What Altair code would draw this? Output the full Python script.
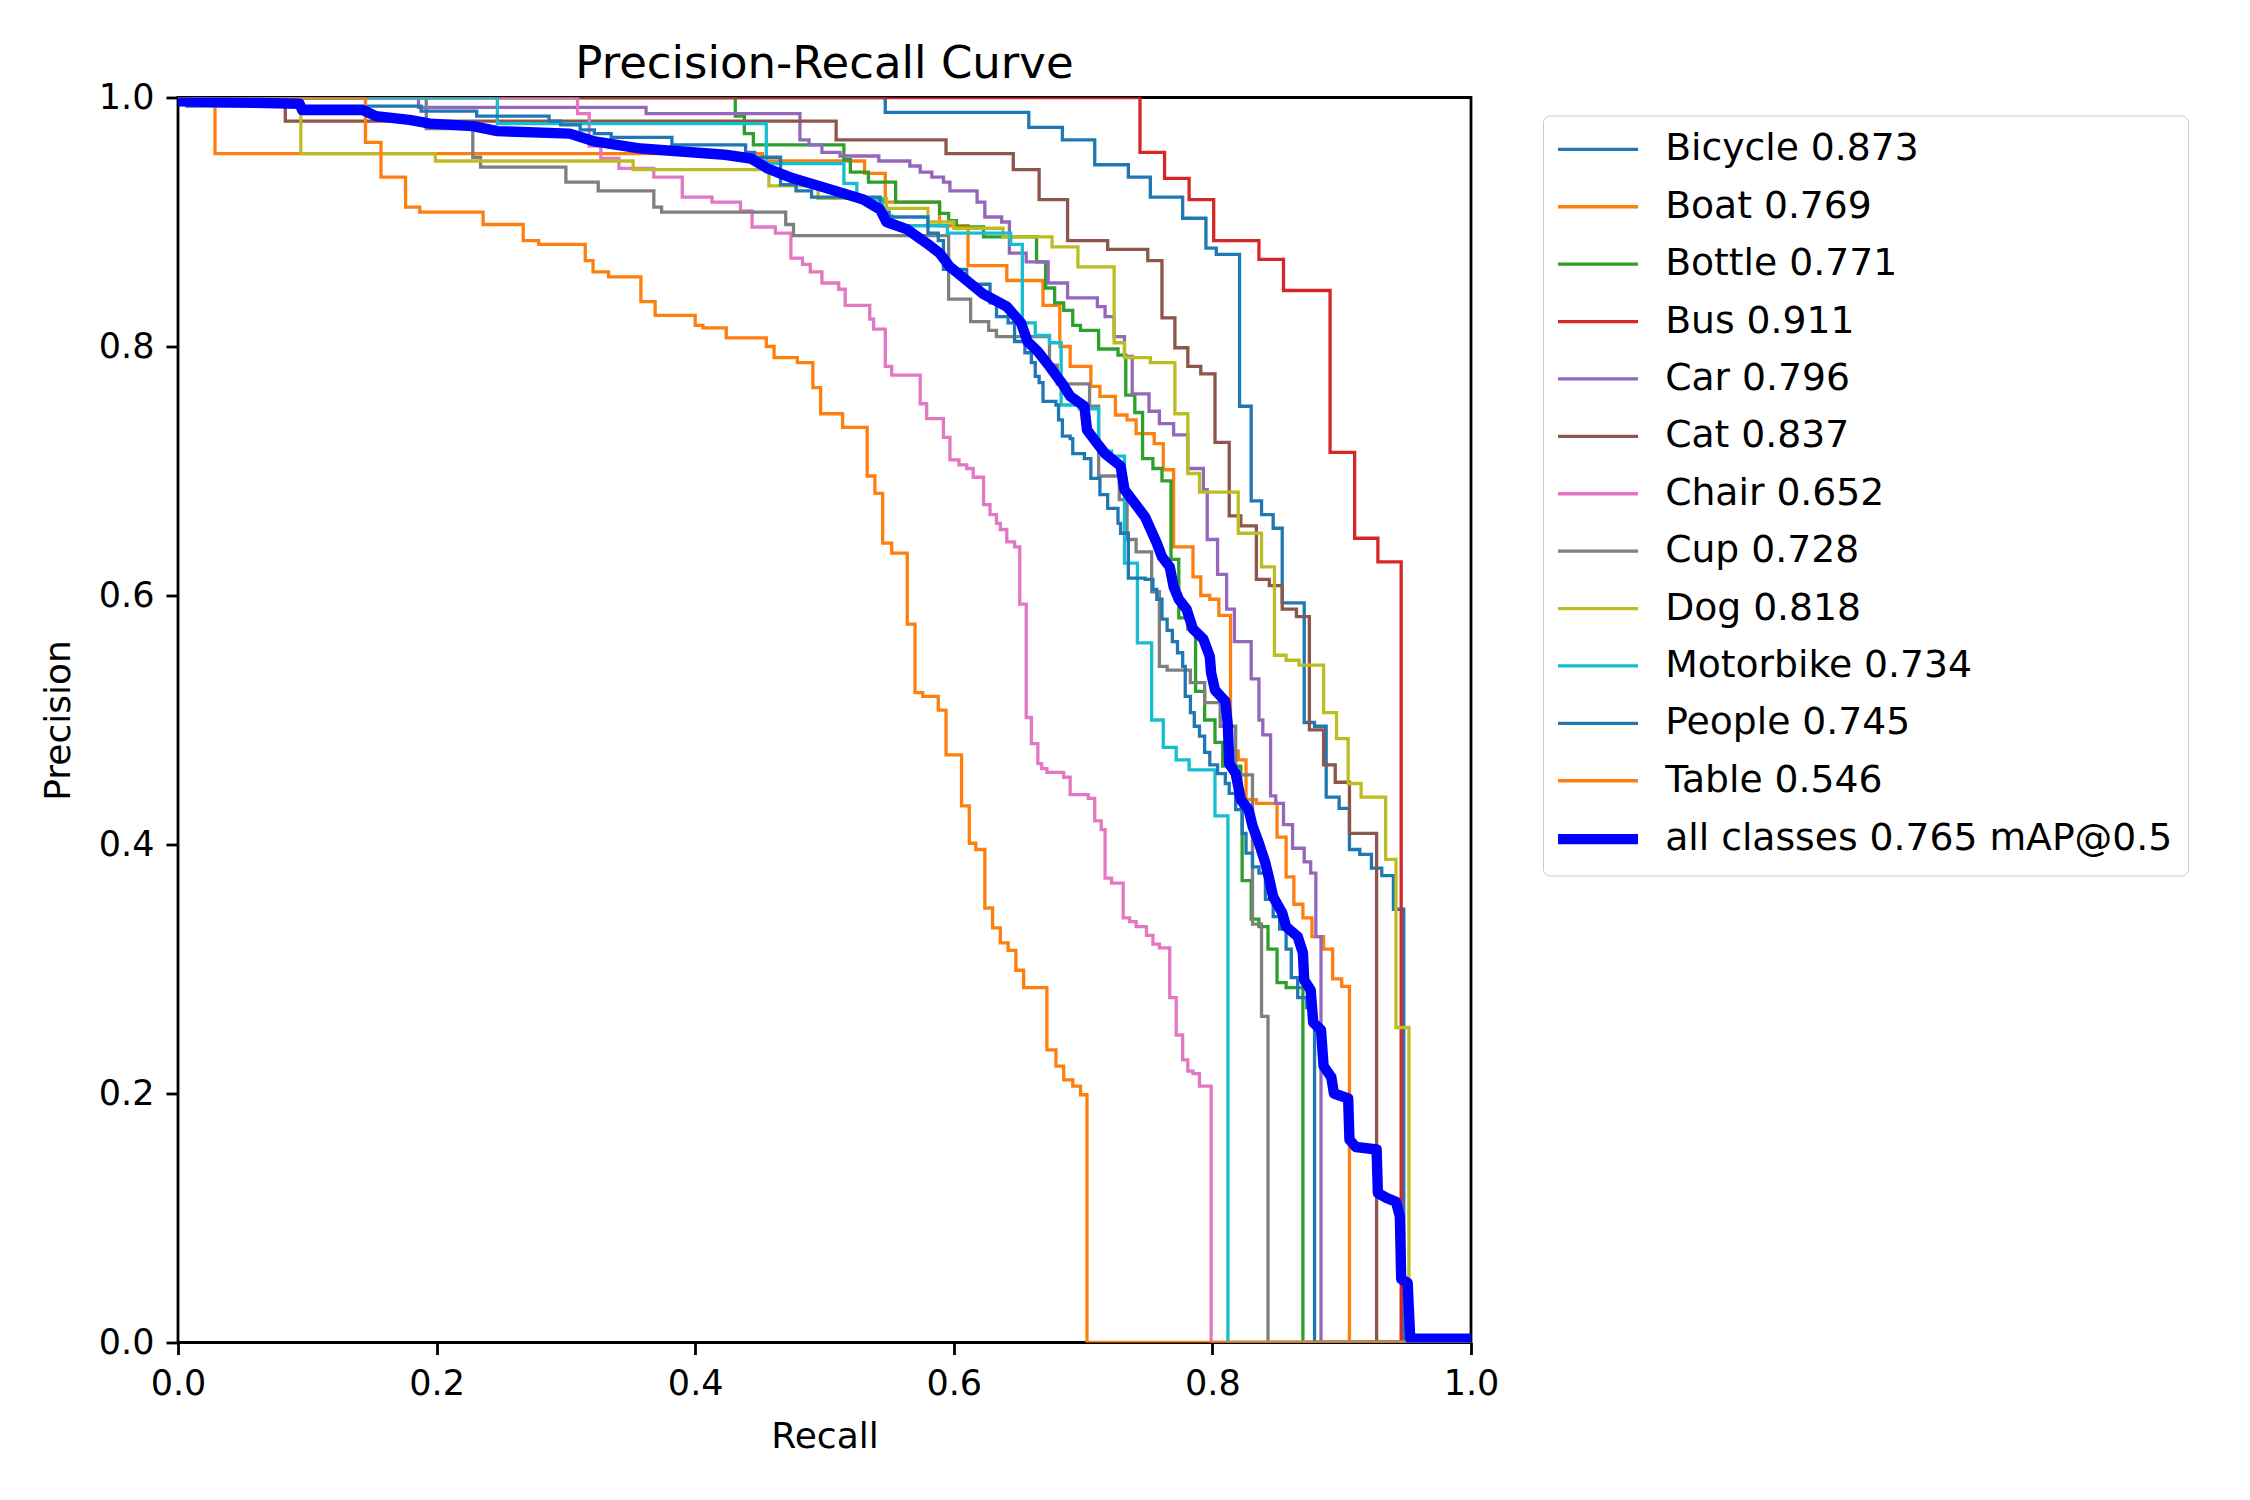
import altair as alt
import pandas as pd

# ---------------- data ----------------
LABELS = ["Bicycle 0.873", "Boat 0.769", "Bottle 0.771", "Bus 0.911", "Car 0.796",
          "Cat 0.837", "Chair 0.652", "Cup 0.728", "Dog 0.818", "Motorbike 0.734",
          "People 0.745", "Table 0.546", "all classes 0.765 mAP@0.5"]
COLORS = ["#1f77b4", "#ff7f0e", "#2ca02c", "#d62728", "#9467bd", "#8c564b",
          "#e377c2", "#7f7f7f", "#bcbd22", "#17becf", "#1f77b4", "#ff7f0e", "#0000ff"]
WIDTHS = [3.3] * 12 + [10.4]

BICYCLE_R = [0, 0.547, 0.658, 0.684, 0.709, 0.735, 0.752, 0.777, 0.795, 0.803, 0.821, 0.830, 0.838,
             0.847, 0.854, 0.871, 0.879, 0.888, 0.898, 0.906, 0.914, 0.923, 0.931, 0.940, 0.948, 1.0]
BICYCLE_P = [1.0, 0.988, 0.976, 0.966, 0.946, 0.936, 0.920, 0.903, 0.879, 0.874, 0.752, 0.676, 0.665,
             0.654, 0.594, 0.498, 0.495, 0.438, 0.429, 0.396, 0.392, 0.381, 0.375, 0.348, 0.0, 0.0]

BOAT_R = [0, 0.0286, 0.452, 0.531, 0.547, 0.589, 0.611, 0.641, 0.669, 0.682, 0.690, 0.706, 0.713, 0.725,
          0.734, 0.741, 0.755, 0.762, 0.770, 0.785, 0.791, 0.798, 0.805, 0.814, 0.820, 0.826, 0.834,
          0.850, 0.857, 0.863, 0.870, 0.877, 0.886, 0.893, 0.900, 0.906, 1.0]
BOAT_P = [1.0, 0.955, 0.949, 0.939, 0.916, 0.897, 0.865, 0.853, 0.833, 0.800, 0.784, 0.768, 0.760, 0.745,
          0.741, 0.730, 0.722, 0.701, 0.639, 0.615, 0.600, 0.597, 0.584, 0.475, 0.468, 0.436, 0.433,
          0.406, 0.374, 0.352, 0.341, 0.326, 0.316, 0.292, 0.286, 0.0, 0.0]

BOTTLE_R = [0, 0.431, 0.438, 0.445, 0.515, 0.520, 0.534, 0.555, 0.589, 0.596, 0.602, 0.623, 0.664, 0.671,
            0.678, 0.685, 0.692, 0.698, 0.712, 0.727, 0.733, 0.740, 0.746, 0.754, 0.761, 0.768, 0.774,
            0.781, 0.787, 0.794, 0.802, 0.808, 0.822, 0.823, 0.830, 0.836, 0.843, 0.850, 0.857, 0.870, 1.0]
BOTTLE_P = [1.0, 0.985, 0.971, 0.962, 0.950, 0.940, 0.932, 0.916, 0.907, 0.901, 0.896, 0.888, 0.868, 0.847,
            0.835, 0.829, 0.817, 0.813, 0.798, 0.793, 0.761, 0.747, 0.710, 0.702, 0.692, 0.629, 0.582,
            0.573, 0.523, 0.500, 0.482, 0.463, 0.431, 0.371, 0.340, 0.334, 0.316, 0.289, 0.285, 0.0, 0.0]

BUS_R = [0, 0.744, 0.763, 0.782, 0.801, 0.836, 0.855, 0.891, 0.910, 0.928, 0.946, 1.0]
BUS_P = [1.0, 0.956, 0.935, 0.918, 0.885, 0.870, 0.845, 0.715, 0.646, 0.627, 0.0, 0.0]

CAR_R = [0, 0.186, 0.362, 0.481, 0.488, 0.498, 0.512, 0.542, 0.566, 0.574, 0.583, 0.592, 0.597, 0.618,
         0.624, 0.637, 0.643, 0.656, 0.673, 0.688, 0.711, 0.717, 0.724, 0.732, 0.738, 0.751, 0.759, 0.770,
         0.781, 0.793, 0.796, 0.804, 0.811, 0.817, 0.830, 0.836, 0.839, 0.845, 0.849, 0.855, 0.862, 0.871,
         0.876, 0.880, 0.884, 1.0]
CAR_P = [1.0, 0.992, 0.987, 0.966, 0.962, 0.956, 0.953, 0.949, 0.945, 0.940, 0.936, 0.932, 0.925, 0.916,
         0.904, 0.900, 0.875, 0.868, 0.851, 0.839, 0.832, 0.824, 0.808, 0.792, 0.762, 0.748, 0.738, 0.729,
         0.702, 0.685, 0.645, 0.617, 0.589, 0.563, 0.533, 0.500, 0.488, 0.439, 0.433, 0.416, 0.397, 0.386,
         0.377, 0.326, 0.0, 0.0]

CAT_R = [0, 0.083, 0.509, 0.594, 0.646, 0.666, 0.688, 0.719, 0.750, 0.761, 0.771, 0.781, 0.791, 0.802,
         0.813, 0.822, 0.834, 0.844, 0.854, 0.865, 0.875, 0.886, 0.895, 0.906, 0.927, 1.0]
CAT_P = [1.0, 0.981, 0.966, 0.955, 0.942, 0.918, 0.885, 0.878, 0.869, 0.823, 0.799, 0.784, 0.778, 0.723,
         0.664, 0.656, 0.613, 0.608, 0.589, 0.583, 0.492, 0.464, 0.450, 0.409, 0.0, 0.0]

CHAIR_R = [0, 0.309, 0.318, 0.327, 0.341, 0.368, 0.390, 0.413, 0.435, 0.444, 0.462, 0.474, 0.483, 0.489,
           0.498, 0.511, 0.516, 0.535, 0.538, 0.547, 0.552, 0.574, 0.579, 0.592, 0.597, 0.604, 0.610,
           0.615, 0.623, 0.628, 0.633, 0.636, 0.641, 0.647, 0.651, 0.656, 0.660, 0.665, 0.668, 0.672,
           0.685, 0.690, 0.704, 0.709, 0.714, 0.717, 0.722, 0.731, 0.736, 0.741, 0.749, 0.754, 0.759,
           0.767, 0.772, 0.777, 0.781, 0.785, 0.790, 0.799, 1.0]
CHAIR_P = [1.0, 0.987, 0.961, 0.951, 0.943, 0.936, 0.920, 0.916, 0.909, 0.896, 0.891, 0.871, 0.866, 0.860,
           0.851, 0.846, 0.833, 0.822, 0.814, 0.784, 0.777, 0.754, 0.742, 0.727, 0.709, 0.705, 0.702,
           0.695, 0.673, 0.665, 0.658, 0.653, 0.643, 0.639, 0.593, 0.502, 0.481, 0.465, 0.461, 0.458,
           0.454, 0.440, 0.437, 0.419, 0.412, 0.373, 0.369, 0.341, 0.338, 0.334, 0.327, 0.320, 0.317,
           0.277, 0.247, 0.227, 0.218, 0.216, 0.206, 0.0, 0.0]

CUP_R = [0, 0.192, 0.228, 0.234, 0.300, 0.325, 0.368, 0.374, 0.470, 0.476, 0.596, 0.613, 0.627, 0.633,
         0.674, 0.680, 0.705, 0.712, 0.728, 0.734, 0.741, 0.753, 0.759, 0.765, 0.783, 0.794, 0.806, 0.818,
         0.831, 0.838, 0.843, 1.0]
CUP_P = [1.0, 0.975, 0.952, 0.944, 0.932, 0.925, 0.912, 0.908, 0.898, 0.889, 0.838, 0.820, 0.813, 0.808,
         0.785, 0.770, 0.752, 0.696, 0.677, 0.645, 0.635, 0.603, 0.543, 0.540, 0.530, 0.514, 0.495, 0.456,
         0.336, 0.262, 0.0, 0.0]

DOG_R = [0, 0.095, 0.199, 0.352, 0.457, 0.495, 0.548, 0.580, 0.600, 0.638, 0.676, 0.696, 0.724, 0.732,
         0.752, 0.771, 0.781, 0.790, 0.820, 0.838, 0.848, 0.857, 0.867, 0.886, 0.896, 0.905, 0.915, 0.934,
         0.942, 0.952, 1.0]
DOG_P = [1.0, 0.955, 0.949, 0.942, 0.929, 0.919, 0.911, 0.900, 0.895, 0.888, 0.880, 0.864, 0.803, 0.791,
         0.787, 0.746, 0.698, 0.683, 0.650, 0.623, 0.552, 0.548, 0.544, 0.506, 0.485, 0.449, 0.438, 0.388,
         0.253, 0.0, 0.0]

MOTORBIKE_R = [0, 0.247, 0.455, 0.515, 0.525, 0.545, 0.552, 0.595, 0.644, 0.653, 0.663, 0.674, 0.683,
               0.697, 0.712, 0.722, 0.732, 0.742, 0.753, 0.762, 0.772, 0.782, 0.802, 0.812, 1.0]
MOTORBIKE_P = [1.0, 0.979, 0.947, 0.931, 0.918, 0.905, 0.897, 0.891, 0.882, 0.819, 0.809, 0.803, 0.753,
               0.750, 0.716, 0.712, 0.626, 0.562, 0.500, 0.478, 0.468, 0.460, 0.423, 0.0, 0.0]

PEOPLE_R = [0, 0.007, 0.188, 0.231, 0.287, 0.296, 0.311, 0.322, 0.335, 0.382, 0.439, 0.446, 0.466, 0.478,
            0.490, 0.543, 0.550, 0.580, 0.588, 0.592, 0.610, 0.628, 0.633, 0.642, 0.647, 0.655, 0.660,
            0.663, 0.666, 0.669, 0.679, 0.681, 0.684, 0.690, 0.692, 0.701, 0.706, 0.713, 0.719, 0.727,
            0.729, 0.735, 0.748, 0.754, 0.757, 0.761, 0.765, 0.769, 0.773, 0.777, 0.779, 0.783, 0.786,
            0.790, 0.794, 0.798, 0.804, 0.810, 0.813, 0.818, 0.823, 0.826, 0.831, 0.836, 0.841, 0.847,
            0.852, 0.857, 0.861, 0.866, 0.873, 0.879, 1.0]
PEOPLE_P = [1.0, 0.993, 0.989, 0.985, 0.981, 0.978, 0.974, 0.971, 0.968, 0.962, 0.956, 0.952, 0.930, 0.925,
            0.920, 0.908, 0.904, 0.891, 0.885, 0.862, 0.850, 0.835, 0.824, 0.819, 0.804, 0.795, 0.787,
            0.776, 0.771, 0.756, 0.753, 0.741, 0.728, 0.726, 0.714, 0.710, 0.694, 0.681, 0.670, 0.658,
            0.650, 0.614, 0.613, 0.605, 0.597, 0.581, 0.572, 0.563, 0.554, 0.543, 0.519, 0.506, 0.495,
            0.487, 0.474, 0.464, 0.457, 0.449, 0.441, 0.428, 0.409, 0.393, 0.382, 0.377, 0.356, 0.342,
            0.332, 0.316, 0.293, 0.277, 0.269, 0.0, 0.0]

TABLE_R = [0, 0.145, 0.157, 0.176, 0.187, 0.236, 0.267, 0.279, 0.315, 0.321, 0.333, 0.358, 0.369, 0.400,
           0.406, 0.424, 0.455, 0.461, 0.479, 0.491, 0.497, 0.514, 0.533, 0.539, 0.545, 0.552, 0.564,
           0.570, 0.576, 0.588, 0.594, 0.606, 0.612, 0.617, 0.624, 0.630, 0.636, 0.642, 0.648, 0.654,
           0.672, 0.679, 0.685, 0.692, 0.698, 0.703, 1.0]
TABLE_P = [1.0, 0.964, 0.936, 0.912, 0.908, 0.898, 0.885, 0.882, 0.869, 0.860, 0.856, 0.836, 0.825, 0.817,
           0.815, 0.807, 0.800, 0.791, 0.787, 0.767, 0.746, 0.735, 0.696, 0.682, 0.642, 0.634, 0.577,
           0.522, 0.519, 0.508, 0.472, 0.431, 0.401, 0.396, 0.349, 0.333, 0.321, 0.315, 0.299, 0.285,
           0.235, 0.222, 0.211, 0.206, 0.199, 0.0, 0.0]

MEAN_R = [0.0, 0.094, 0.096, 0.143, 0.153, 0.179, 0.195, 0.228, 0.247, 0.303, 0.321, 0.358, 0.423, 0.443,
          0.456, 0.473, 0.502, 0.530, 0.543, 0.548, 0.564, 0.579, 0.589, 0.597, 0.610, 0.623, 0.641, 0.652,
          0.657, 0.665, 0.674, 0.684, 0.690, 0.701, 0.703, 0.711, 0.717, 0.729, 0.732, 0.740, 0.748, 0.757,
          0.761, 0.767, 0.770, 0.774, 0.780, 0.785, 0.793, 0.798, 0.799, 0.802, 0.810, 0.812, 0.813, 0.818,
          0.822, 0.828, 0.831, 0.836, 0.841, 0.844, 0.847, 0.854, 0.857, 0.866, 0.870, 0.871, 0.876, 0.878,
          0.884, 0.886, 0.892, 0.894, 0.905, 0.906, 0.911, 0.927, 0.928, 0.935, 0.942, 0.945, 0.946, 0.951,
          0.953, 1.0]
MEAN_P = [0.997, 0.995, 0.990, 0.990, 0.985, 0.982, 0.979, 0.977, 0.973, 0.971, 0.965, 0.959, 0.954, 0.951,
          0.943, 0.936, 0.927, 0.918, 0.910, 0.900, 0.894, 0.883, 0.875, 0.864, 0.853, 0.842, 0.832, 0.819,
          0.804, 0.796, 0.784, 0.770, 0.760, 0.752, 0.733, 0.722, 0.714, 0.704, 0.685, 0.674, 0.663, 0.642,
          0.631, 0.623, 0.607, 0.597, 0.589, 0.573, 0.565, 0.551, 0.538, 0.524, 0.515, 0.495, 0.465, 0.457,
          0.436, 0.428, 0.415, 0.401, 0.385, 0.372, 0.358, 0.345, 0.334, 0.326, 0.313, 0.291, 0.283, 0.257,
          0.251, 0.222, 0.213, 0.200, 0.196, 0.163, 0.157, 0.155, 0.120, 0.116, 0.113, 0.101, 0.051, 0.048,
          0.003, 0.003]

CLASS_SERIES = [
    (BICYCLE_R, BICYCLE_P), (BOAT_R, BOAT_P), (BOTTLE_R, BOTTLE_P), (BUS_R, BUS_P),
    (CAR_R, CAR_P), (CAT_R, CAT_P), (CHAIR_R, CHAIR_P), (CUP_R, CUP_P), (DOG_R, DOG_P),
    (MOTORBIKE_R, MOTORBIKE_P), (PEOPLE_R, PEOPLE_P), (TABLE_R, TABLE_P),
]

rows = []
for label, (rs, ps) in zip(LABELS[:12], CLASS_SERIES):
    for i, (r, p) in enumerate(zip(rs, ps)):
        rows.append({"label": label, "r": r, "p": p, "i": i})
df_cls = pd.DataFrame(rows)
df_mean = pd.DataFrame({"label": LABELS[12], "r": MEAN_R, "p": MEAN_P, "i": range(len(MEAN_R))})

FONT = "DejaVu Sans"
TICK_FS = 35
LABEL_FS = 36
LEGEND_FS = 37.7

legend = alt.Legend(
    title=None, orient="none", legendX=1365, legendY=18,
    symbolType="M-3.478,0H3.478", symbolSize=529,
    symbolOffset=21.15, labelOffset=48.3,
    labelFont=FONT, labelFontSize=LEGEND_FS, labelColor="black", labelLimit=0,
    rowPadding=18.4, padding=15, fillColor="white", strokeColor="#cccccc",
    cornerRadius=7,
)


def make_axis(pad):
    return alt.Axis(values=[0, 0.2, 0.4, 0.6, 0.8, 1.0], format=".1f", grid=False,
                    domain=False, tickSize=12, tickWidth=2.8, tickColor="black",
                    labelPadding=12, labelFont=FONT, labelFontSize=TICK_FS, labelColor="black",
                    labelFlush=False, titleFont=FONT, titleFontSize=LABEL_FS,
                    titleFontWeight="normal", titleColor="black", titlePadding=pad)


x_enc = alt.X("r:Q", title="Recall",
              scale=alt.Scale(domain=[0, 1], nice=False, zero=False), axis=make_axis(17.5))
y_enc = alt.Y("p:Q", title="Precision",
              scale=alt.Scale(domain=[0, 1], nice=False, zero=False), axis=make_axis(20.5))
color_enc = alt.Color("label:N", scale=alt.Scale(domain=LABELS, range=COLORS), legend=legend)
width_enc = alt.StrokeWidth("label:N", scale=alt.Scale(type="ordinal", domain=LABELS, range=WIDTHS),
                            legend=legend)

classes = alt.Chart(df_cls).mark_line(interpolate="step-after", clip=True).encode(
    x=x_enc, y=y_enc, color=color_enc, strokeWidth=width_enc, order=alt.Order("i:Q"))
mean = alt.Chart(df_mean).mark_line(clip=True, strokeJoin="round").encode(
    x=x_enc, y=y_enc, color=color_enc, strokeWidth=width_enc, order=alt.Order("i:Q"))

chart = alt.layer(classes, mean).properties(
    width=1293, height=1245,
    background="white",
    title=alt.TitleParams("Precision-Recall Curve", font=FONT, fontSize=45, fontWeight="normal",
                          color="black", anchor="middle", offset=-6.5, frame="group"),
    autosize=alt.AutoSizeParams(type="none"),
    padding={"left": 170, "top": 89.5, "right": 760, "bottom": 120},
).configure_view(stroke="black", strokeWidth=2.8)

chart.save("out.html", embed_options={"renderer": "svg", "actions": False})
